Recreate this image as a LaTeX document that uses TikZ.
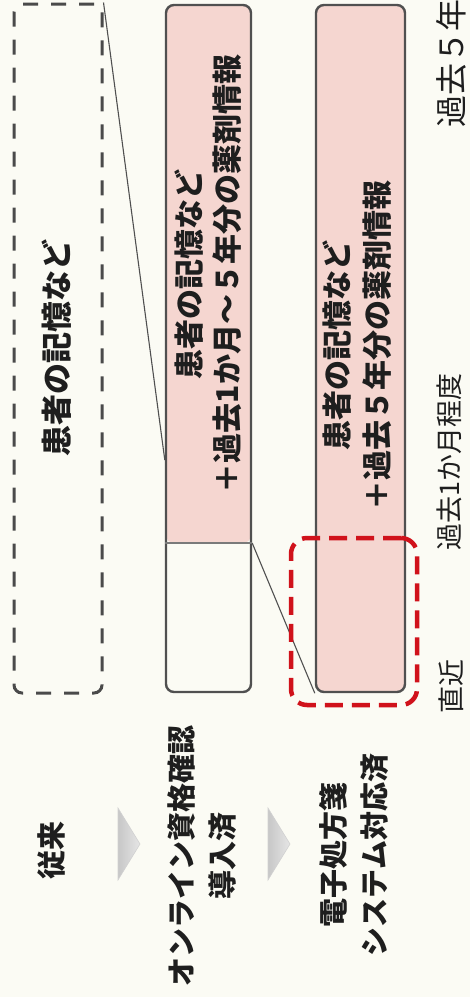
\documentclass[tikz,border=0pt]{standalone}
\usepackage{fontspec}
\newfontfamily\jp{Noto Sans CJK JP}
\definecolor{bgc}{HTML}{FBFBF4}
\definecolor{pinkc}{HTML}{F5D6D0}
\definecolor{edgec}{HTML}{505050}
\definecolor{divc}{HTML}{7A7A7A}
\definecolor{redc}{HTML}{D0121B}
\definecolor{dashc}{HTML}{4A4A4A}
\definecolor{txtc}{HTML}{1E1E1E}
\begin{document}
\begin{tikzpicture}[x=1pt,y=-1pt,
  boxshape/.style={draw=edgec, line width=2.4pt, rounded corners=8pt, inner sep=0pt, minimum height=687pt},
  btxt/.style={rotate=90, align=center, text=txtc, inner sep=0pt, font=\jp\bfseries\fontsize{30}{38}\selectfont},
  ltxt/.style={rotate=90, align=center, text=txtc, inner sep=0pt, font=\jp\bfseries\fontsize{29}{41}\selectfont},
  atxt/.style={rotate=90, text=txtc, inner sep=0pt, font=\jp\fontsize{27}{30}\selectfont},
  conn/.style={draw=edgec, line width=1.1pt},
  arrowtri/.style={left color=black!22, right color=black!10, draw=black!18, line width=0.6pt}]
\useasboundingbox (0,0) rectangle (470,997);
\fill[bgc] (0,0) rectangle (470,997);
\clip (0,0) rectangle (470,997);

% column 1: dashed box
\node[draw=dashc, line width=3pt, dash pattern=on 15pt off 13pt, rounded corners=8pt,
      inner sep=0pt, minimum width=88pt, minimum height=689pt] (old) at (58,348.5) {};
\node[btxt, font=\jp\bfseries\fontsize{31}{38}\selectfont] (oldtxt) at (57,348) {患者の記憶など};

% column 2
\node[boxshape, minimum width=85pt, fill=bgc,
      path picture={\fill[pinkc] (path picture bounding box.north west) rectangle ([yshift=149pt]path picture bounding box.south east);}]
      (mid) at (208.5,348.5) {};
\coordinate (divY) at (0,543);
\coordinate (divL) at (mid.west |- divY);
\coordinate (divR) at (mid.east |- divY);
\draw[draw=divc, line width=2.6pt] (divL) -- (divR);
\node[btxt] (midtxt) at (208.5,274) {患者の記憶など\\＋過去1か月～５年分の薬剤情報};

% column 3
\node[boxshape, minimum width=89pt, fill=pinkc] (new) at (360.5,348.5) {};
\node[btxt, font=\jp\bfseries\fontsize{30}{40}\selectfont] (newtxt) at (357,345) {患者の記憶など\\＋過去５年分の薬剤情報};

% connectors
\coordinate (c1Y) at (0,460);
\coordinate (c1) at (mid.west |- c1Y);
\draw[conn] (old.north east) -- (c1);
\draw[conn] (divR) -- (new.south west);

% red highlight
\node[draw=redc, line width=4.5pt, dash pattern=on 18pt off 9pt, rounded corners=16pt,
      inner sep=0pt, minimum width=126pt, minimum height=167pt] (focus) at (354,621.5) {};

% arrows
\shade[arrowtri] (118,808) -- (140,844) -- (118,880) -- cycle;
\shade[arrowtri] (268,808) -- (290,844) -- (268,880) -- cycle;

% bottom labels
\node[ltxt] (lab1) at (52,850) {従来};
\node[ltxt] (lab2) at (202.5,856) {オンライン資格確認\\導入済};
\node[ltxt] (lab3) at (354,855) {電子処方箋\\システム対応済};

% axis labels
\node[atxt] (ax1) at (451,686) {直近};
\node[atxt] (ax2) at (449,462) {過去1か月程度};
\node[atxt, anchor=west, font=\jp\fontsize{32}{34}\selectfont] (ax3) at (451,128) {過去５年};
\end{tikzpicture}
\end{document}
